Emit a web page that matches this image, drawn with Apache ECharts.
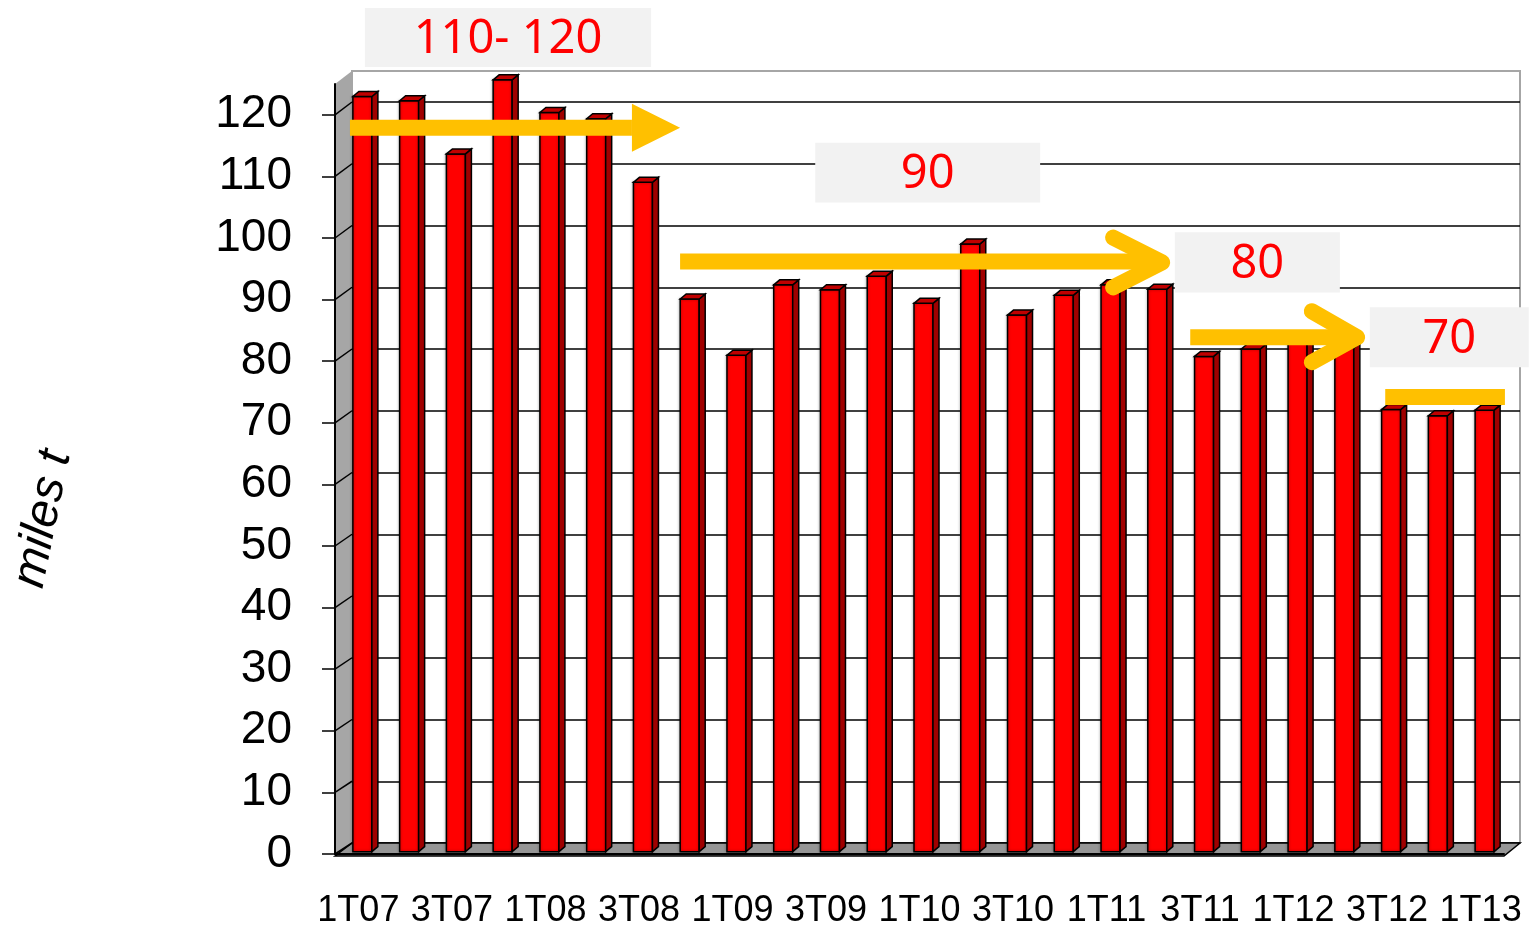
<!DOCTYPE html>
<html>
<head>
<meta charset="utf-8">
<script src="https://cdn.jsdelivr.net/npm/echarts@6/dist/echarts.min.js"></script>
<style>
  html, body { margin: 0; padding: 0; background: #fff; }
  #chart { width: 1529px; height: 929px; }
</style>
</head>
<body>
<div id="chart"></div>
<script>
// quarters 1T07 .. 1T13
const categories = ['1T07','2T07','3T07','4T07','1T08','2T08','3T08','4T08','1T09','2T09','3T09','4T09',
  '1T10','2T10','3T10','4T10','1T11','2T11','3T11','4T11','1T12','2T12','3T12','4T12','1T13']
const values = [122.3,121.6,113.0,125.0,119.7,118.7,108.4,89.5,80.4,91.8,91.0,93.2,
  88.8,98.4,86.9,90.1,91.8,91.1,80.2,81.4,82.5,81.6,71.6,70.6,71.5]
const yTicks = [0,10,20,30,40,50,60,70,80,90,100,110,120]
const yMax = 125
const yName = 'miles t'
const noteTexts = ['110- 120', '90', '80', '70']

// layout: back wall, front plane, bar plane (pseudo 3d)
const BACK = { left: 352, top: 71, width: 1168, height: 772 }
const BACK_LINES = { left: 352, top: 102, width: 1168, height: 741 } // 0..120 only
const FRONT = { left: 335, top: 84, width: 1169, height: 772 }
const BARS = { left: 339, top: 79.8, width: 1169, height: 771.9 }
const ORANGE = '#FFC000'
const TXT = 'Liberation Sans, Arial, sans-serif'

const chart = echarts.init(document.getElementById('chart'))

const renderBar = (params, api) => {
  const top = api.coord([api.value(0), api.value(1)])
  const base = api.coord([api.value(0), 0])
  const w = 19, dx = 6, dy = 5
  const x = top[0] - w / 2
  const line = { stroke: '#000', lineWidth: 1.5 }
  return {
    type: 'group',
    children: [
      { type: 'rect', shape: { x: x, y: top[1], width: w, height: base[1] - top[1] },
        style: Object.assign({ fill: '#FF0000', shadowBlur: 3, shadowColor: 'rgba(0,0,0,0.35)' }, line) },
      { type: 'polygon', shape: { points: [[x + w, top[1]], [x + w + dx, top[1] - dy], [x + w + dx, base[1] - dy], [x + w, base[1]]] },
        style: Object.assign({ fill: '#A00000' }, line) },
      { type: 'polygon', shape: { points: [[x, top[1]], [x + dx, top[1] - dy], [x + w + dx, top[1] - dy], [x + w, top[1]]] },
        style: Object.assign({ fill: '#C00000' }, line) }
    ]
  }
}

chart.setOption({
  animation: false,
  backgroundColor: '#fff',
  grid: [
    Object.assign({ show: true, backgroundColor: '#fff', borderColor: '#A6A6A6', borderWidth: 2 }, BACK),
    FRONT,
    BARS,
    BACK_LINES
  ],
  xAxis: [
    { gridIndex: 0, type: 'category', data: categories, show: false },
    {
      gridIndex: 1, type: 'category', data: categories, z: 5,
      axisLine: { lineStyle: { color: '#000', width: 2 } },
      axisTick: { interval: 0, length: 10, lineStyle: { color: '#000', width: 1.5 } },
      axisLabel: { interval: 1, fontSize: 36, fontFamily: TXT, color: '#000', margin: 39 }
    },
    { gridIndex: 2, type: 'category', data: categories, show: false },
    { gridIndex: 3, type: 'category', data: categories, show: false }
  ],
  yAxis: [
    { gridIndex: 0, type: 'value', min: 0, max: yMax, show: false },
    {
      gridIndex: 1, type: 'value', min: 0, max: yMax, interval: 10, z: 5,
      axisLine: { show: true, lineStyle: { color: '#000', width: 2 } },
      axisTick: { show: true, length: 13, customValues: yTicks, lineStyle: { color: '#000', width: 1.5 } },
      axisLabel: { fontSize: 46, fontFamily: TXT, color: '#000', margin: 43, customValues: yTicks,
        formatter: v => (v % 10 ? '' : v) },
      splitLine: { show: false }
    },
    { gridIndex: 2, type: 'value', min: 0, max: yMax, show: false },
    {
      gridIndex: 3, type: 'value', min: 0, max: 120, interval: 10,
      axisLine: { show: false }, axisTick: { show: false }, axisLabel: { show: false },
      splitLine: { lineStyle: { color: '#000', width: 1.5 } }
    }
  ],
  series: [{
    type: 'custom',
    xAxisIndex: 2,
    yAxisIndex: 2,
    z: 3,
    renderItem: renderBar,
    data: values.map((v, i) => [i, v])
  }]
})

// ---- walls + annotations, placed through the front axes ----
const p0 = chart.convertToPixel({ gridIndex: 1 }, [0, 0])
const p1 = chart.convertToPixel({ gridIndex: 1 }, [1, 10])
const bw = p1[0] - p0[0]
const k = (p0[1] - p1[1]) / 10
const pt = (i, v) => [p0[0] + i * bw, p0[1] - v * k]

const fx0 = FRONT.left, fx1 = FRONT.left + FRONT.width
const fy0 = FRONT.top, fy1 = FRONT.top + FRONT.height
const bx0 = BACK.left, bx1 = BACK.left + BACK.width
const by0 = BACK.top, by1 = BACK.top + BACK.height

const graphics = [
  { type: 'polygon', z: 1, shape: { points: [[fx0, fy0], [bx0, by0], [bx0, by1], [fx0, fy1]] },
    style: { fill: '#A6A6A6' } },
  { type: 'polygon', z: 1, shape: { points: [[fx0, fy1], [bx0, by1], [bx1, by1], [fx1, fy1]] },
    style: { fill: '#969696', stroke: '#000', lineWidth: 1.5 } }
]
yTicks.forEach(v => {
  const yf = chart.convertToPixel({ yAxisIndex: 1 }, v)
  const yb = chart.convertToPixel({ yAxisIndex: 3 }, v)
  graphics.push({ type: 'line', z: 2, shape: { x1: fx0, y1: yf, x2: bx0, y2: yb },
    style: { stroke: '#000', lineWidth: 1.5 } })
})

// axis title, slightly tilted as in the source
graphics.push({ type: 'text', z: 5, x: 43, y: 519, rotation: 78.5 * Math.PI / 180,
  style: { text: yName, fontSize: 48, fontStyle: 'italic', fontFamily: TXT, fill: '#000',
    align: 'center', verticalAlign: 'middle' } })

const rectFrom = (a, b) => ({ x: a[0], y: a[1], width: b[0] - a[0], height: b[1] - a[1] })

// label boxes: [i1, vTop, i2, vBottom]
const boxes = [
  [0.14, 137.33, 6.26, 127.77],
  [9.77, 115.47, 14.58, 105.75],
  [17.46, 100.94, 20.99, 91.17],
  [21.63, 88.74, 25.03, 79.03]
]
boxes.forEach((b, n) => {
  const r = rectFrom(pt(b[0], b[1]), pt(b[2], b[3]))
  graphics.push({ type: 'rect', z: 10, shape: r, style: { fill: '#F2F2F2' } })
  graphics.push({ type: 'text', z: 11, x: r.x + r.width / 2, y: r.y + r.height / 2 + 2,
    style: { text: noteTexts[n], fill: '#FF0000', fontSize: 47, fontFamily: 'Noto Sans, sans-serif',
      align: 'center', verticalAlign: 'middle' } })
})

// arrow 1: block arrow
graphics.push({ type: 'rect', z: 12, shape: rectFrom(pt(-0.18, 119.19), pt(5.85, 116.6)), style: { fill: ORANGE } })
graphics.push({ type: 'polygon', z: 12, shape: { points: [pt(5.85, 121.78), pt(6.88, 117.9), pt(5.85, 114.0)] },
  style: { fill: ORANGE } })
// arrows 2 and 3: shaft + open head
const openArrow = (shaft, head) => {
  graphics.push({ type: 'rect', z: 12, shape: rectFrom(pt(shaft[0], shaft[1]), pt(shaft[2], shaft[3])), style: { fill: ORANGE } })
  graphics.push({ type: 'polyline', z: 12, shape: { points: head.map(h => pt(h[0], h[1])) },
    style: { stroke: ORANGE, lineWidth: 16, lineCap: 'round', lineJoin: 'round', fill: null } })
}
openArrow([6.88, 97.49, 17.0, 94.9], [[16.14, 100.08], [17.19, 96.03], [16.14, 91.98]])
openArrow([17.79, 85.18, 21.2, 82.59], [[20.39, 88.1], [21.36, 83.89], [20.39, 79.84]])
// flat marker over the last bars
graphics.push({ type: 'rect', z: 12, shape: rectFrom(pt(21.96, 75.47), pt(24.52, 72.87)), style: { fill: ORANGE } })

chart.setOption({ graphic: graphics })
</script>
</body>
</html>
